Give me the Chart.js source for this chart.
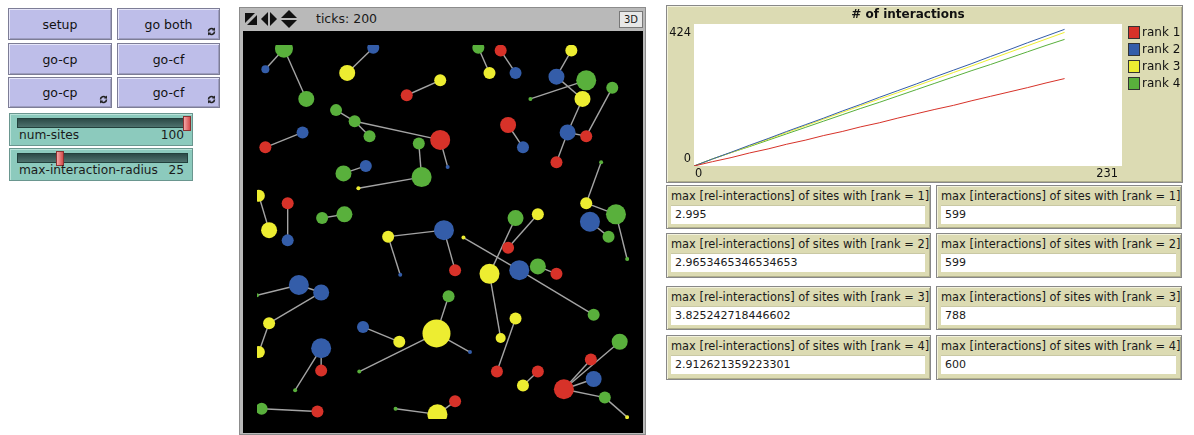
<!DOCTYPE html>
<html><head><meta charset="utf-8">
<script src="https://cdn.jsdelivr.net/npm/chart.js@4/dist/chart.umd.min.js"></script>
<style>
body{margin:0;width:1194px;height:435px;background:#fff;position:relative;overflow:hidden;font-family:"DejaVu Sans",sans-serif;color:#1a1a1a}
.w{position:absolute;box-sizing:border-box}
.btn{background:#bebee9;border:1px solid #7d7d96;box-shadow:inset 1px 1px 0 #e6e6fa,inset -1px -1px 0 #9d9dbf;font-size:12.5px;display:flex;align-items:center;justify-content:center;color:#111}
.btn svg{position:absolute;right:3px;bottom:3px}
.sl{background:#8ccabd;border:1px solid #6a968f;box-shadow:inset 1px 1px 0 #b8e2d8}
.track{position:absolute;left:7px;top:4px;width:171px;height:10px;background:linear-gradient(#2c4a47,#4d716d);border:1px solid #22403c;box-sizing:border-box}
.knob{position:absolute;top:2px;width:8px;height:15px;background:linear-gradient(90deg,#f4a6a6,#d44c4c);border:1px solid #8a3232;box-sizing:border-box}
.sl .lab{position:absolute;left:9px;top:14px;font-size:12.2px}
.sl .val{position:absolute;right:8px;top:14px;font-size:12.2px}
.view{border:1px solid #8c8c8c;background:#b9b9b9}
.bar{position:absolute;left:0;top:0;height:23px;width:100%;font-size:12.5px}
.mon{background:#dcdbb3;border:1px solid #888;box-shadow:inset 1px 1px 0 #f3f2dc,inset -1px -1px 0 #b0af8c}
.mon .lab{position:absolute;left:4px;top:3px;font-size:11.4px;white-space:nowrap}
.mon .box{position:absolute;left:4px;right:5px;top:19px;height:19px;background:#fff;border-top:1px solid #c9c8a4;box-sizing:border-box;font-size:11px;padding-left:4px;line-height:18px}
.plotw{background:#dcdbb3;border:1px solid #888;box-shadow:inset 1px 1px 0 #f3f2dc,inset -1px -1px 0 #b0af8c}
</style></head>
<body>
<div id="ui"></div>
<div class="w view" style="left:239px;top:7px;width:407px;height:428px">
  <div class="bar">
    <svg style="position:absolute;left:5px;top:5px" width="12" height="12"><polygon points="0,0 10,0 0,10" fill="#111"/><polygon points="12,2 12,12 2,12" fill="#111"/></svg>
    <svg style="position:absolute;left:21px;top:4px" width="16" height="14"><polygon points="0,7 7,0 7,14" fill="#111"/><polygon points="16,7 9,0 9,14" fill="#111"/></svg>
    <svg style="position:absolute;left:41px;top:2px" width="16" height="18"><polygon points="8,0 16,8 0,8" fill="#111"/><polygon points="8,18 16,10 0,10" fill="#111"/></svg>
    <span style="position:absolute;left:76px;top:3px">ticks: 200</span>
    <div style="position:absolute;left:379px;top:3px;width:24px;height:17px;background:#e8e8e8;border:1px solid #777;box-sizing:border-box;font-size:10px;text-align:center;line-height:15px">3D</div>
  </div>
</div>
<canvas id="world" width="400" height="402" style="position:absolute;left:243px;top:31px;background:#000"></canvas>
<div class="w plotw" style="left:666px;top:5px;width:517px;height:178px"></div>
<canvas id="plot" width="516" height="178" style="position:absolute;left:666px;top:5px"></canvas>
<script>
// ---- plot data: # of interactions by rank ----
const plotTicks = [0,10,20,30,40,50,60,70,80,90,100,110,120,130,140,150,160,170,180,190,200];
const rank1 = [0,13,25,39,51,65,77,91,103,117,129,143,156,169,181,195,208,221,234,248,261];
const rank2 = [0,21,41,62,82,103,123,143,164,184,205,225,245,266,286,306,327,347,368,388,408];
const rank3 = [0,21,40,60,80,100,120,140,160,180,200,219,239,259,279,299,319,339,359,379,399];
const rank4 = [0,21,40,58,77,96,115,134,153,172,190,209,228,247,266,285,303,322,341,360,378];
const plotXMax = 231, plotYMax = 424;
const rankLabels = ["rank 1","rank 2","rank 3","rank 4"];
const rankColors = ["#d73229","#345da9","#eded31","#59b03c"];

// ---- monitors ----
const monRel = ["2.995","2.9653465346534653","3.825242718446602","2.912621359223301"];
const monMax = ["599","599","788","600"];

// ---- world: sites (x, y, size, rank) and links ----
const siteX = [29,9,125,97,53,161,197,85,105,121,197,49,9,174,205,93,117,177,109,238,262,250,278,338,322,354,382,294,350,270,286,334,354,322,370,2,33,13,33,70,94,141,154,201,213,278,302,270,222,250,282,302,322,354,358,386,378,398,206,0,45,69,13,2,69,69,41,114,153,193,110,5,65,149,194,229,262,278,362,258,302,286,359,390,362,330,374,213,398];
const siteY = [398,376,399,372,344,348,364,332,320,304,300,308,292,296,271,264,272,260,248,399,396,372,372,396,368,364,356,344,344,316,292,308,304,276,276,240,232,203,192,216,220,196,155,203,160,216,220,184,195,156,160,164,156,232,212,220,196,172,132,133,144,136,103,72,76,52,31,99,83,92,51,11,8,11,5,72,87,108,112,51,51,36,64,83,43,32,23,19,2];
const siteSize = [9,4,6,8,8,6,6,6,6,6,10,6,6,6,2,8,6,10,2,6,6,6,6,6,8,10,6,2,8,8,6,8,6,6,2,6,6,8,6,6,8,6,2,10,6,8,6,6,2,10,10,8,6,6,10,10,6,2,6,2,10,8,6,6,10,6,2,6,6,14,2,6,6,2,10,2,5,6,6,6,6,6,6,8,8,10,6,6,2];
const siteRank = [4,2,2,3,4,1,3,4,4,4,1,2,1,4,2,4,2,4,3,4,1,3,2,3,2,4,4,4,3,1,2,2,1,1,4,3,1,3,2,4,4,3,2,2,1,4,3,1,3,3,2,4,1,3,2,4,4,4,4,4,2,2,3,3,2,1,4,2,3,3,4,4,1,4,3,2,3,3,4,1,1,3,1,4,2,1,4,1,3];
const linkFrom = [0,0,2,6,7,8,8,11,10,13,15,18,19,20,23,27,24,28,26,31,31,29,35,36,39,41,41,43,34,53,54,55,45,46,48,51,50,49,59,60,61,62,64,64,67,69,70,69,77,80,83,84,82,86,86,71,73,87];
const linkTo   = [1,4,3,5,8,9,10,12,14,17,16,17,21,22,24,25,28,31,32,32,33,30,37,38,40,43,42,44,53,55,56,57,49,47,50,52,78,76,60,61,62,63,65,66,68,58,69,75,79,81,85,85,85,85,88,72,74,74];

const datasetsW = [];
for (let r = 1; r <= 4; r++) {
  const pts = [];
  siteX.forEach((x, i) => { if (siteRank[i] === r) pts.push({x: x, y: siteY[i], r: siteSize[i]}); });
  datasetsW.push({type:'bubble', data: pts, backgroundColor: rankColors[r-1], borderWidth: 0, order: 0});
}
linkFrom.forEach((a, k) => {
  const b = linkTo[k];
  datasetsW.push({type:'scatter', showLine:true, data:[{x:siteX[a],y:siteY[a]},{x:siteX[b],y:siteY[b]}],
    borderColor:'#a4a4a4', borderWidth:1.4, pointRadius:0, order: 1});
});
new Chart(document.getElementById('world'), {
  type: 'scatter',
  data: {datasets: datasetsW},
  options: {
    responsive:false, animation:false, devicePixelRatio:1,
    layout:{padding:0},
    plugins:{legend:{display:false}, tooltip:{enabled:false}},
    events: [],
    scales:{x:{type:'linear',min:0,max:400,display:false}, y:{type:'linear',min:0,max:402,display:false}}
  }
});

// ---- plot ----
const series = [rank1, rank2, rank3, rank4];
const nlPlot = {
  id:'nlPlot',
  beforeDatasetsDraw(chart){
    const a = chart.chartArea, c = chart.ctx;
    c.save(); c.fillStyle='#fff'; c.fillRect(a.left, a.top, a.right-a.left, a.bottom-a.top); c.restore();
  },
  afterDraw(chart){
    const a = chart.chartArea, c = chart.ctx;
    const xs = chart.scales.x, ys = chart.scales.y;
    c.save();
    c.fillStyle = '#111';
    c.font = 'bold 12px "DejaVu Sans"';
    c.textAlign = 'center'; c.textBaseline = 'middle';
    c.fillText('# of interactions', (a.left+a.right)/2, 10);
    c.font = '11.4px "DejaVu Sans"';
    c.textAlign = 'right';
    c.fillText(String(ys.max), a.left-3, a.top+9);
    c.fillText(String(ys.min), a.left-3, a.bottom-7);
    c.textAlign = 'left';
    c.fillText(String(xs.min), a.left+1, a.bottom+8);
    c.textAlign = 'right';
    c.fillText(String(xs.max), a.right-4, a.bottom+8);
    c.font = '12px "DejaVu Sans"';
    chart.data.datasets.forEach((d, i) => {
      const y = 27 + i*17;
      c.fillStyle = d.borderColor; c.fillRect(a.right+6, y-6, 12, 13);
      c.strokeStyle = '#333'; c.lineWidth = 1; c.strokeRect(a.right+6.5, y-5.5, 11, 12);
      c.fillStyle = '#111'; c.textAlign='left';
      c.fillText(d.label, a.right+20, y+1);
    });
    c.restore();
  }
};
new Chart(document.getElementById('plot'), {
  type:'line',
  data:{datasets: series.map((s, i) => ({
    label: rankLabels[i],
    data: plotTicks.map((t, k) => ({x:t, y:s[k]})),
    borderColor: rankColors[i], borderWidth:1, pointRadius:0, tension:0, fill:false
  }))},
  options:{
    responsive:false, animation:false, devicePixelRatio:1,
    layout:{padding:{left:28, top:19, right:60, bottom:17}},
    plugins:{legend:{display:false}, tooltip:{enabled:false}, title:{display:false}},
    events: [],
    scales:{x:{type:'linear',min:0,max:plotXMax,display:false}, y:{min:0,max:plotYMax,display:false}}
  },
  plugins:[nlPlot]
});

// ---- interface widgets ----
const ui = document.getElementById('ui');
const forever = '<svg width="9" height="9" viewBox="0 0 9 9"><path d="M1.5 4.5a3 3 0 0 1 5.2-2" fill="none" stroke="#222" stroke-width="1.6"/><polygon points="8,0.5 8,3.8 4.8,3.2" fill="#222"/><path d="M7.5 4.5a3 3 0 0 1-5.2 2" fill="none" stroke="#222" stroke-width="1.6"/><polygon points="1,8.5 1,5.2 4.2,5.8" fill="#222"/></svg>';
const buttons = [
  ['setup',8,8,104,32,false],['go both',117,8,103,32,true],
  ['go-cp',8,43,104,32,false],['go-cf',117,43,103,32,false],
  ['go-cp',8,77,104,31,true],['go-cf',117,77,103,31,true]];
let html = '';
buttons.forEach(b => {
  html += `<div class="w btn" style="left:${b[1]}px;top:${b[2]}px;width:${b[3]}px;height:${b[4]}px">${b[0]}${b[5]?forever:''}</div>`;
});
const sliders = [['num-sites','100',113,173],['max-interaction-radius','25',148,46]];
sliders.forEach(s => {
  html += `<div class="w sl" style="left:9px;top:${s[2]}px;width:184px;height:33px"><div class="track"></div><div class="knob" style="left:${s[3]}px"></div><span class="lab">${s[0]}</span><span class="val">${s[1]}</span></div>`;
});
const rowTop = [185,233,286,335], rowH = [44,45,44,45];
for (let i = 0; i < 4; i++) {
  html += `<div class="w mon" style="left:666px;top:${rowTop[i]}px;width:265px;height:${rowH[i]}px"><span class="lab">max [rel-interactions] of sites with [rank = ${i+1}]</span><div class="box">${monRel[i]}</div></div>`;
  html += `<div class="w mon" style="left:936px;top:${rowTop[i]}px;width:246px;height:${rowH[i]}px"><span class="lab">max [interactions] of sites with [rank = ${i+1}]</span><div class="box">${monMax[i]}</div></div>`;
}
ui.innerHTML = html;
</script>
</body></html>
